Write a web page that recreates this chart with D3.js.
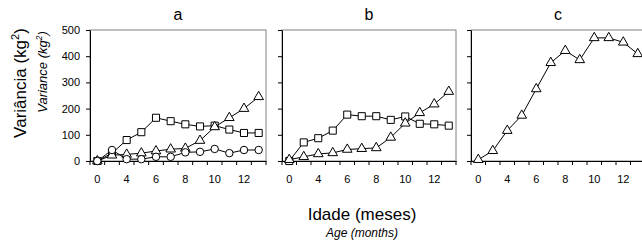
<!DOCTYPE html>
<html>
<head>
<meta charset="utf-8">
<script src="https://cdn.jsdelivr.net/npm/d3@7"></script>
<style>
    body { margin: 0; background: white; }
    svg { display: block; font-family: "Liberation Sans", Arial, sans-serif; }
</style>
</head>
<body>
<svg width="642" height="241"></svg>
<script>
// age categories (only every other one is labelled)
const categories = ['0', '2', '4', '5', '6', '7', '8', '9', '10', '11', '12', '13'];
const y_ticks = [0, 100, 200, 300, 400, 500];
const panel_names = ['a', 'b', 'c'];

// panel a
const a_squares = [0, 30, 80, 110, 165, 152, 140, 132, 135, 120, 107, 107];
const a_triangles = [0, 22, 25, 30, 38, 45, 48, 78, 130, 165, 200, 245];
const a_circles = [0, 42, 7, 7, 16, 16, 33, 35, 46, 30, 42, 42];
// panel b
const b_squares = [0, 71, 87, 116, 177, 171, 171, 157, 170, 142, 140, 135];
const b_triangles = [5, 16, 27, 31, 44, 47, 50, 90, 144, 184, 217, 265];
// panel c
const c_triangles = [5, 39, 116, 174, 275, 375, 421, 386, 470, 470, 453, 409];

const svg = d3.select('svg');
const top_y = 30, bottom_y = 161;
const panel_ranges = [[90, 266], [282, 456], [471, 645]];

const y = d3.scaleLinear().domain([0, 500]).range([bottom_y, top_y]);

const panel_series = [
    [{shape: 'square', values: a_squares}, {shape: 'triangle', values: a_triangles}, {shape: 'circle', values: a_circles}],
    [{shape: 'square', values: b_squares}, {shape: 'triangle', values: b_triangles}],
    [{shape: 'triangle', values: c_triangles}]
];

const symbols = {
    square: d3.symbol().type(d3.symbolSquare).size(50),
    triangle: d3.symbol().type(d3.symbolTriangle).size(40),
    circle: d3.symbol().type(d3.symbolCircle).size(44)
};

function draw_panel(i) {
    const [x0, x1] = panel_ranges[i];
    const x = d3.scaleBand().domain(categories).range([x0, x1]);
    const cx = function(c) { return x(c) + x.bandwidth() / 2; };
    const g = svg.append('g');

    // plot area frame (grey)
    g.append('rect')
        .attr('x', x0).attr('y', top_y)
        .attr('width', x1 - x0).attr('height', bottom_y - top_y)
        .attr('fill', 'none')
        .attr('stroke', '#808080');

    // title
    g.append('text')
        .attr('x', (x0 + x1) / 2)
        .attr('y', 20)
        .attr('text-anchor', 'middle')
        .attr('font-size', 16)
        .text(panel_names[i]);

    // y axis
    const y_axis = d3.axisLeft(y).tickValues(y_ticks).tickSize(4).tickPadding(6).tickSizeOuter(0);
    if (i > 0) y_axis.tickFormat('');
    g.append('g')
        .attr('transform', 'translate(' + x0 + ',0)')
        .call(y_axis)
        .call(s => s.selectAll('text').attr('font-size', 11).attr('font-family', null))
        .call(s => s.selectAll('line, path').attr('stroke', 'black'));

    // x axis: labels every other category, tick marks between categories
    const x_axis = d3.axisBottom(x)
        .tickValues(categories.filter((c, k) => k % 2 === 0))
        .tickSize(0).tickPadding(14).tickSizeOuter(0);
    const xg = g.append('g')
        .attr('transform', 'translate(0,' + bottom_y + ')')
        .call(x_axis)
        .call(s => s.selectAll('text').attr('font-size', 11).attr('font-family', null))
        .call(s => s.select('.domain').attr('stroke', 'black'));
    const bounds = categories.map(c => x(c)).concat([x1]);
    xg.selectAll('.between')
        .data(bounds)
        .join('line')
        .attr('x1', d => d).attr('x2', d => d)
        .attr('y1', 0).attr('y2', 4)
        .attr('stroke', 'black');

    const line = d3.line()
        .x((d, k) => cx(categories[k]))
        .y(d => y(d));

    panel_series[i].forEach(function(s) {
        g.append('path')
            .datum(s.values)
            .attr('d', line)
            .attr('fill', 'none')
            .attr('stroke', 'black')
            .attr('stroke-width', 1);
        g.selectAll('.pt-' + s.shape)
            .data(s.values)
            .join('path')
            .attr('transform', (d, k) => 'translate(' + cx(categories[k]) + ',' + y(d) + ')')
            .attr('d', symbols[s.shape])
            .attr('fill', 'white')
            .attr('stroke', 'black')
            .attr('stroke-width', 1);
    });
}

for (var i = 0; i < 3; ++i) draw_panel(i);

// axis titles, with superscript 2
function add_unit_title(x, yy, size, italic, main) {
    const t = svg.append('text')
        .attr('transform', 'translate(' + x + ',' + yy + ') rotate(-90)')
        .attr('text-anchor', 'middle')
        .attr('font-size', size)
        .attr('font-style', italic ? 'italic' : null);
    t.append('tspan').text(main + ' (kg');
    t.append('tspan').attr('dy', -size * 0.4).attr('font-size', size * 0.65).text('2');
    t.append('tspan').attr('dy', size * 0.4).text(')');
}
add_unit_title(26, 83, 17, false, 'Variância');
add_unit_title(47, 72, 13, true, 'Variance');

svg.append('text')
    .attr('x', 362).attr('y', 220)
    .attr('text-anchor', 'middle')
    .attr('font-size', 17)
    .text('Idade (meses)');
svg.append('text')
    .attr('x', 362).attr('y', 237)
    .attr('text-anchor', 'middle')
    .attr('font-size', 12)
    .attr('font-style', 'italic')
    .text('Age (months)');
</script>
</body>
</html>
